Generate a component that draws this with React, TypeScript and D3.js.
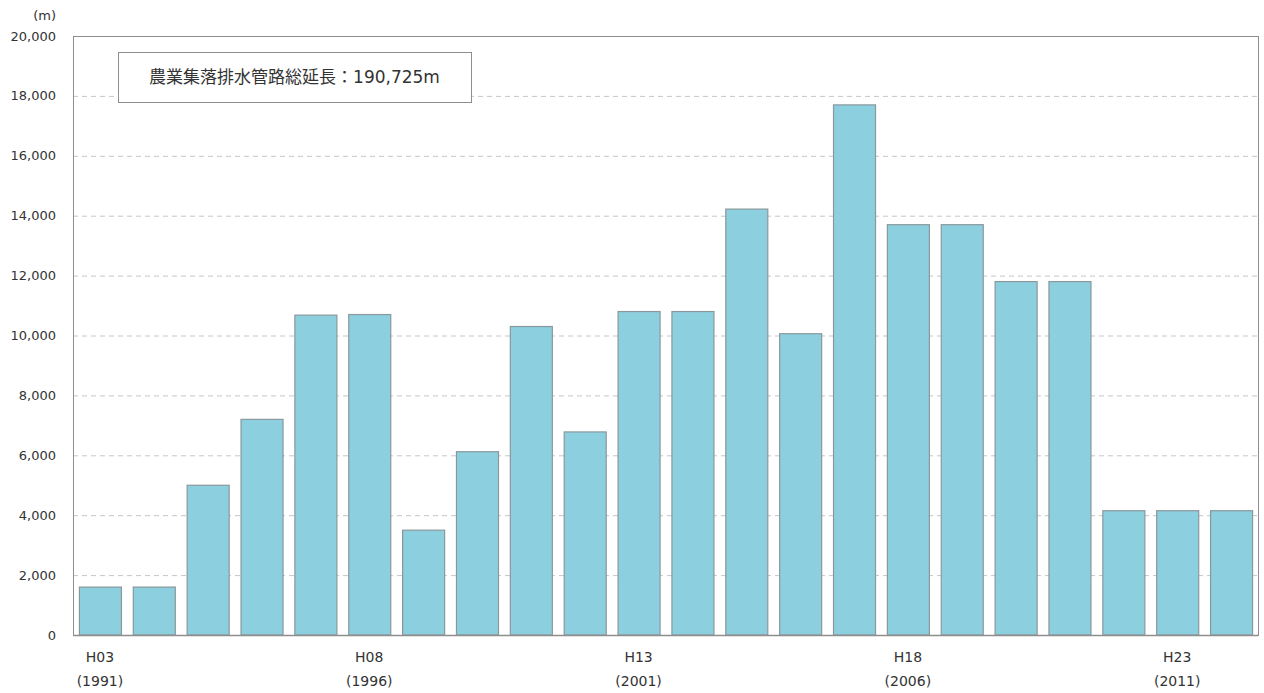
import React from "react";
import * as d3 from "d3";

// Annual length of rural drainage pipes (m), H03 (1991) – H24 (2012)
const eras: string[] = [
  "H03", "H04", "H05", "H06", "H07", "H08", "H09", "H10", "H11", "H12", "H13",
  "H14", "H15", "H16", "H17", "H18", "H19", "H20", "H21", "H22", "H23", "H24",
];
const years: number[] = [
  1991, 1992, 1993, 1994, 1995, 1996, 1997, 1998, 1999, 2000, 2001,
  2002, 2003, 2004, 2005, 2006, 2007, 2008, 2009, 2010, 2011, 2012,
];
const lengths: number[] = [
  1600, 1600, 5000, 7200, 10680, 10700, 3500, 6120, 10300, 6780, 10800,
  10800, 14220, 10060, 17700, 13700, 13700, 11800, 11800, 4150, 4150, 4150,
];
const labelledEras: string[] = ["H03", "H08", "H13", "H18", "H23"];
const yTicks: number[] = [0, 2000, 4000, 6000, 8000, 10000, 12000, 14000, 16000, 18000, 20000];
const unitLabel = "(m)";
const totalLabel = "農業集落排水管路総延長：190,725m";

const W = 1264;
const H = 693;
const margin = { left: 73, right: 6, top: 36, bottom: 58 };
const font = "'DejaVu Sans', 'Noto Sans CJK JP', sans-serif";

export default function App() {
  const x = d3
    .scaleBand<string>()
    .domain(eras)
    .range([margin.left, W - margin.right])
    .paddingInner(0.22)
    .paddingOuter(0.11);
  const y = d3
    .scaleLinear()
    .domain([0, 20000])
    .range([H - margin.bottom, margin.top]);
  const fmt = d3.format(",");

  const x0 = margin.left;
  const x1 = W - margin.right;
  const y0 = y(0);
  const yTop = y(20000);

  return (
    <svg
      width={W}
      height={H}
      style={{ position: "absolute", left: 0, top: 0, background: "#fff" }}
      fontFamily={font}
    >
      {/* gridlines */}
      {yTicks
        .filter((t) => t > 0 && t < 20000)
        .map((t) => (
          <line
            key={t}
            x1={x0}
            x2={x1}
            y1={y(t) + 0.5}
            y2={y(t) + 0.5}
            stroke="#c6c6c6"
            strokeWidth={1}
            strokeDasharray="5,4"
          />
        ))}

      {/* plot frame */}
      <rect
        x={x0 + 0.5}
        y={yTop + 0.5}
        width={x1 - x0}
        height={y0 - yTop}
        fill="none"
        stroke="#8e8e8e"
        strokeWidth={1}
      />

      {/* bars */}
      {lengths.map((v, i) => (
        <rect
          key={eras[i]}
          x={(x(eras[i]) as number) + 0.5}
          y={y(v)}
          width={x.bandwidth()}
          height={y0 - y(v)}
          fill="#8ccfdf"
          stroke="#8a989c"
          strokeWidth={1.2}
        />
      ))}

      {/* baseline */}
      <line x1={x0} x2={x1} y1={y0 + 0.5} y2={y0 + 0.5} stroke="#8e8e8e" strokeWidth={1.5} />

      {/* y tick labels */}
      {yTicks.map((t) => (
        <text
          key={t}
          x={56}
          y={y(t)}
          dy="0.35em"
          textAnchor="end"
          fontSize={13}
          fill="#333"
        >
          {fmt(t)}
        </text>
      ))}
      <text x={56} y={15} dy="0.35em" textAnchor="end" fontSize={13} fill="#333">
        {unitLabel}
      </text>

      {/* x labels */}
      {eras.map((e, i) =>
        labelledEras.includes(e) ? (
          <g key={e}>
            <text
              x={(x(e) as number) + x.bandwidth() / 2}
              y={657}
              dy="0.35em"
              textAnchor="middle"
              fontSize={14}
              fill="#333"
            >
              {e}
            </text>
            <text
              x={(x(e) as number) + x.bandwidth() / 2}
              y={681}
              dy="0.35em"
              textAnchor="middle"
              fontSize={14}
              fill="#333"
            >
              {`(${years[i]})`}
            </text>
          </g>
        ) : null
      )}

      {/* total annotation box */}
      <rect x={118.5} y={52.5} width={353} height={50} fill="#fff" stroke="#8e8e8e" strokeWidth={1} />
      <text x={294.5} y={77.5} dy="0.35em" textAnchor="middle" fontSize={17} fill="#333">
        {totalLabel}
      </text>
    </svg>
  );
}
